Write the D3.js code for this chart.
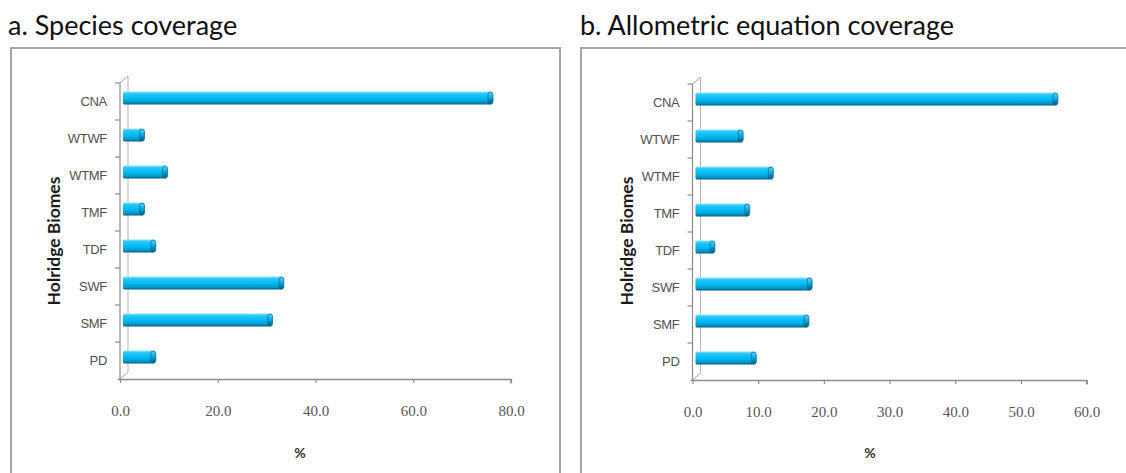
<!DOCTYPE html>
<html>
<head>
<meta charset="utf-8">
<script src="https://cdn.jsdelivr.net/npm/d3@7"></script>
<style>
  html, body { margin: 0; padding: 0; background: #fff; }
  svg { display: block; }
</style>
</head>
<body>
<svg id="chart" width="1126" height="473"></svg>
<script>
// Holdridge biome categories, listed top to bottom
const biomes = ["CNA", "WTWF", "WTMF", "TMF", "TDF", "SWF", "SMF", "PD"];

// Panel a: share of species per biome (%)
const speciesPct = [75.5, 4.2, 8.9, 4.2, 6.5, 32.7, 30.4, 6.5];
const speciesTicks = [0, 20, 40, 60, 80];

// Panel b: share of allometric equations per biome (%)
const equationPct = [55.0, 7.1, 11.7, 8.1, 2.8, 17.6, 17.1, 9.1];
const equationTicks = [0, 10, 20, 30, 40, 50, 60];

const titles = ["a. Species coverage", "b. Allometric equation coverage"];
const yTitle = "Holridge Biomes";
const xTitle = "%";

const svg = d3.select("#chart");

// Bar shading (cylinder-like highlight and shadow)
const defs = svg.append("defs");
const grad = defs.append("linearGradient")
  .attr("id", "barFill").attr("x1", 0).attr("y1", 0).attr("x2", 0).attr("y2", 1);
[[0, "#8fe2ff"], [0.18, "#22c8f8"], [0.55, "#02b8ef"], [0.82, "#0098cc"], [1, "#005e86"]]
  .forEach(([o, c]) => grad.append("stop").attr("offset", o).attr("stop-color", c));
const capGrad = defs.append("linearGradient")
  .attr("id", "capFill").attr("x1", 0).attr("y1", 0).attr("x2", 0).attr("y2", 1);
[[0, "#5fd3fb"], [0.5, "#05a6dc"], [1, "#00577c"]]
  .forEach(([o, c]) => capGrad.append("stop").attr("offset", o).attr("stop-color", c));

const panels = [
  { title: titles[0], values: speciesPct, ticks: speciesTicks, max: 80,
    frameX: 11, frameW: 549, titleX: 8,
    x0: 120, x1: 511, yTop: 83, yBottom: 379, yTitleX: 54 },
  { title: titles[1], values: equationPct, ticks: equationTicks, max: 60,
    frameX: 581, frameW: 560, titleX: 580,
    x0: 692.5, x1: 1086.7, yTop: 84, yBottom: 380, yTitleX: 627 }
];

const axisColor = "#8c8c8c";
const depthX = 8, depthY = -7;   // 3D wall offset

panels.forEach(p => {
  const g = svg.append("g");

  // panel title
  g.append("text")
    .attr("x", p.titleX).attr("y", 35)
    .attr("font-family", "Lato, 'Open Sans', sans-serif")
    .attr("font-size", 27)
    .attr("fill", "#111")
    .text(p.title);

  // chart frame
  g.append("rect")
    .attr("x", p.frameX).attr("y", 48)
    .attr("width", p.frameW).attr("height", 440)
    .attr("fill", "#fff")
    .attr("stroke", "#a6a6a6").attr("stroke-width", 2);

  const x = d3.scaleLinear().domain([0, p.max]).range([p.x0, p.x1]);
  const y = d3.scaleBand().domain(biomes).range([p.yTop, p.yBottom]).padding(0);

  // back wall and floor edges of the 3D axes
  g.append("line")
    .attr("x1", p.x0 + depthX).attr("y1", p.yTop + depthY)
    .attr("x2", p.x0 + depthX).attr("y2", p.yBottom + depthY)
    .attr("stroke", "#b5b5b5").attr("stroke-width", 1);
  g.append("line")
    .attr("x1", p.x0).attr("y1", p.yTop)
    .attr("x2", p.x0 + depthX).attr("y2", p.yTop + depthY)
    .attr("stroke", "#a0a0a0").attr("stroke-width", 1);
  g.append("line")
    .attr("x1", p.x0).attr("y1", p.yBottom)
    .attr("x2", p.x0 + depthX).attr("y2", p.yBottom + depthY)
    .attr("stroke", "#a0a0a0").attr("stroke-width", 1);

  // bars
  const barH = 13;
  const shift = depthX / 2 - 1;
  const bars = g.append("g").selectAll("g").data(biomes.map((b, i) => ({ b, v: p.values[i] })))
    .join("g");
  bars.append("rect")
    .attr("x", x(0) + shift)
    .attr("y", d => y(d.b) + y.bandwidth() / 2 - 3.5 - barH / 2)
    .attr("width", d => x(d.v) - x(0))
    .attr("height", barH)
    .attr("rx", 1.5)
    .attr("fill", "url(#barFill)");
  bars.append("rect")
    .attr("x", d => x(d.v) + shift - 4)
    .attr("y", d => y(d.b) + y.bandwidth() / 2 - 3.5 - barH / 2 + 0.5)
    .attr("width", 5)
    .attr("height", barH - 1)
    .attr("rx", 2.5)
    .attr("fill", "url(#capFill)")
    .attr("stroke", "#0b6f98").attr("stroke-width", 0.8);

  // vertical axis (front) with ticks between categories
  g.append("line")
    .attr("x1", p.x0).attr("y1", p.yTop)
    .attr("x2", p.x0).attr("y2", p.yBottom)
    .attr("stroke", axisColor).attr("stroke-width", 1.2);
  const bounds = biomes.map(b => y(b));
  g.selectAll(null).data(bounds).join("line")
    .attr("x1", p.x0 - 5).attr("x2", p.x0)
    .attr("y1", d => d).attr("y2", d => d)
    .attr("stroke", axisColor).attr("stroke-width", 1.2);

  // category labels
  g.selectAll(null).data(biomes).join("text")
    .attr("x", p.x0 - 13)
    .attr("y", d => y(d) + y.bandwidth() / 2)
    .attr("dy", "0.35em")
    .attr("text-anchor", "end")
    .attr("font-family", "'Liberation Sans', Arial, sans-serif")
    .attr("font-size", 13)
    .attr("letter-spacing", -0.3)
    .attr("fill", "#505050")
    .text(d => d);

  // horizontal axis
  const xAxis = d3.axisBottom(x)
    .tickValues(p.ticks)
    .tickSize(4)
    .tickPadding(22)
    .tickFormat(d3.format(".1f"));
  const ax = g.append("g").attr("transform", `translate(0,${p.yBottom})`).call(xAxis);
  ax.select(".domain").attr("stroke", axisColor).attr("stroke-width", 1.5)
    .attr("d", `M${p.x0 - 2},0.5H${p.x1}V4.5`);
  ax.selectAll(".tick line").attr("stroke", axisColor).attr("stroke-width", 1.2);
  ax.selectAll(".tick text")
    .attr("font-family", "'Liberation Serif', serif")
    .attr("font-size", 15)
    .attr("fill", "#555");

  // axis titles
  g.append("text")
    .attr("transform", `translate(${p.yTitleX},241) rotate(-90)`)
    .attr("text-anchor", "middle")
    .attr("dy", "0.35em")
    .attr("font-family", "Lato, 'Open Sans', sans-serif")
    .attr("font-weight", "bold")
    .attr("font-size", 17.5)
    .attr("fill", "#1a1a1a")
    .text(yTitle);
  g.append("text")
    .attr("x", p.frameX + 289).attr("y", 458)
    .attr("text-anchor", "middle")
    .attr("font-family", "Lato, 'Open Sans', sans-serif")
    .attr("font-weight", "bold")
    .attr("font-size", 14)
    .attr("fill", "#333")
    .text(xTitle);
});
</script>
</body>
</html>
